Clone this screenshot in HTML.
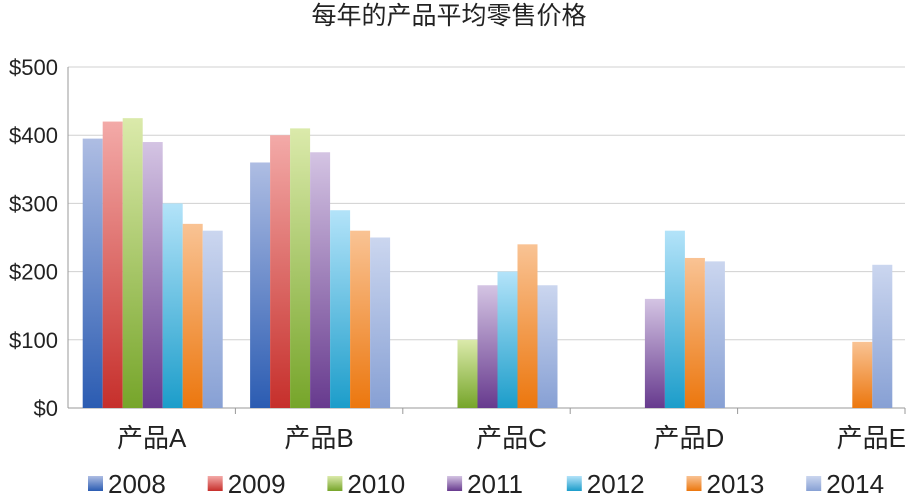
<!DOCTYPE html>
<html><head><meta charset="utf-8"><style>
body{margin:0;background:#fff;width:909px;height:495px;overflow:hidden}
svg text{font-family:"Liberation Sans","Noto Sans CJK SC",sans-serif;fill:#222}
</style></head><body>
<svg id="c" width="909" height="495"></svg>
<script>
const categories=["产品A","产品B","产品C","产品D","产品E"];
const years=["2008","2009","2010","2011","2012","2013","2014"];
const s2008=[395,360,0,0,0];
const s2009=[420,400,0,0,0];
const s2010=[425,410,100,0,0];
const s2011=[390,375,180,160,0];
const s2012=[300,290,200,260,0];
const s2013=[270,260,240,220,97];
const s2014=[260,250,180,215,210];
const series=[s2008,s2009,s2010,s2011,s2012,s2013,s2014];
const ticks=[0,100,200,300,400,500];
const tickLabels=["$0","$100","$200","$300","$400","$500"];
const colors=[["#aebde3","#2b5cb2"],["#f3aaa8","#c62f2b"],["#dbeaab","#76a52a"],["#d4c4e3","#673a8e"],["#b3e3f9","#1c9dca"],["#f9c394","#ec770e"],["#cbd6ef","#87a0d4"]];
const NS="http://www.w3.org/2000/svg";
const svg=document.getElementById('c');
function el(t,a,p){const e=document.createElementNS(NS,t);for(const k in a)e.setAttribute(k,a[k]);(p||svg).appendChild(e);return e;}
const X0=68,X1=905,Y0=408,Y1=67,MAX=500;
const y=v=>Y0-(v/MAX)*(Y0-Y1);
const gw=(X1-X0)/categories.length,bw=20,pad=(gw-bw*years.length)/2+1;
const xb=(ci,si)=>X0+ci*gw+pad+si*bw;
const labelOffsets=[0,0,25,35,50];
const defs=el('defs',{});
colors.forEach((c,i)=>{const g=el('linearGradient',{id:'g'+i,x1:0,y1:0,x2:0,y2:1},defs);el('stop',{offset:0,'stop-color':c[0]},g);el('stop',{offset:1,'stop-color':c[1]},g);});
const t=el('text',{x:449,y:24,'text-anchor':'middle','font-size':25});t.textContent="每年的产品平均零售价格";

ticks.forEach((v,i)=>{
 const l=el('line',{x1:X0,x2:X1,y1:y(v),y2:y(v),stroke:i==0?'#999':'#d0d0d0','stroke-width':1});
 
 const tx=el('text',{x:X0-10,y:y(v)+8,'text-anchor':'end','font-size':22});tx.textContent=tickLabels[i];
 
});
el('line',{x1:X0,x2:X0,y1:Y1,y2:Y0,stroke:'#999'});
categories.forEach((c,ci)=>{
 el('line',{x1:X0+(ci+1)*gw,x2:X0+(ci+1)*gw,y1:Y0,y2:Y0+6,stroke:'#999'});
 const tx=el('text',{x:X0+ci*gw+gw/2+labelOffsets[ci],y:447,'text-anchor':'middle','font-size':26});tx.textContent=c;
 
 series.forEach((s,si)=>{const v=s[ci];if(!v)return;
  const r=el('rect',{x:xb(ci,si),y:y(v),width:bw,height:Y0-y(v),fill:'url(#g'+si+')'});
  
 });
});
years.forEach((yr,i)=>{
 const lx=88+i*119.7;
 const r=el('rect',{x:lx,y:476,width:15,height:15,fill:'url(#g'+i+')'});
 
 const tx=el('text',{x:lx+20,y:493,'font-size':26});tx.textContent=yr;
 
});
</script>
</body></html>
